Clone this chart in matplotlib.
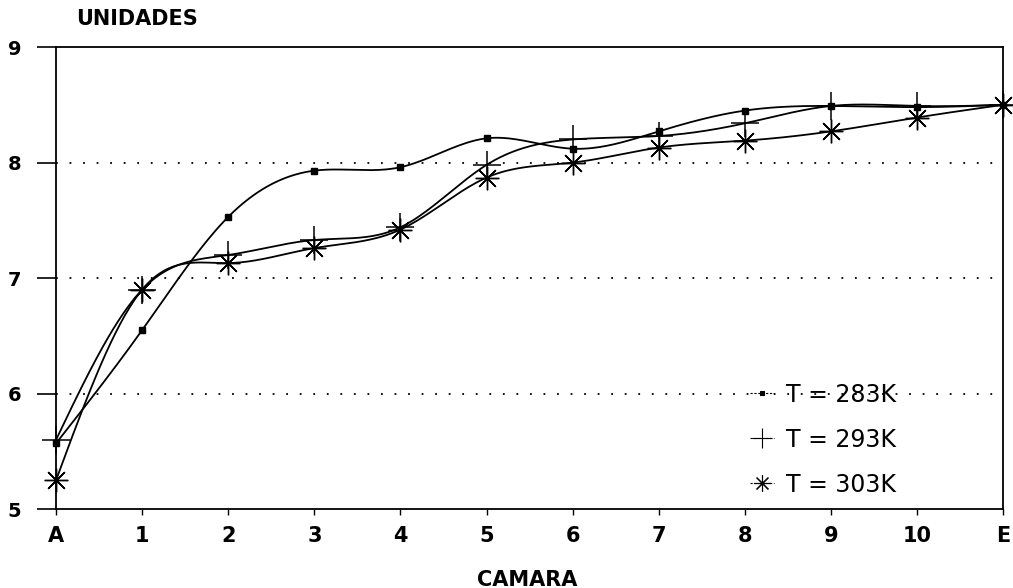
import matplotlib.pyplot as plt
import numpy as np

camaras = ['A', '1', '2', '3', '4', '5', '6', '7', '8', '9', '10', 'E']
t283 = [5.57, 6.55, 7.53, 7.93, 7.96, 8.21, 8.12, 8.27, 8.45, 8.49, 8.48, 8.50]
t293 = [5.60, 6.90, 7.20, 7.33, 7.44, 7.98, 8.20, 8.23, 8.34, 8.49, 8.49, 8.50]
t303 = [5.25, 6.90, 7.13, 7.26, 7.42, 7.87, 8.00, 8.13, 8.19, 8.27, 8.39, 8.50]
grid_levels = [6, 7, 8]


def natural_spline(x, y, n=400):
    # natural cubic spline, just for drawing the smooth connecting curve
    x = np.asarray(x, float)
    y = np.asarray(y, float)
    k = len(x)
    h = np.diff(x)
    A = np.zeros((k, k))
    b = np.zeros(k)
    A[0, 0] = A[-1, -1] = 1.0
    for i in range(1, k - 1):
        A[i, i - 1] = h[i - 1]
        A[i, i] = 2 * (h[i - 1] + h[i])
        A[i, i + 1] = h[i]
        b[i] = 3 * ((y[i + 1] - y[i]) / h[i] - (y[i] - y[i - 1]) / h[i - 1])
    c = np.linalg.solve(A, b)
    xs = np.linspace(x[0], x[-1], n)
    idx = np.clip(np.searchsorted(x, xs) - 1, 0, k - 2)
    dx = xs - x[idx]
    bb = (y[idx + 1] - y[idx]) / h[idx] - h[idx] * (2 * c[idx] + c[idx + 1]) / 3
    dd = (c[idx + 1] - c[idx]) / (3 * h[idx])
    ys = y[idx] + bb * dx + c[idx] * dx ** 2 + dd * dx ** 3
    return xs, ys


plt.rcParams['font.family'] = ['DejaVu Sans']

fig = plt.figure(figsize=(10.13, 5.88), dpi=100)
ax = fig.add_axes([0.0553, 0.134, 0.935, 0.786])

x = np.arange(len(camaras))
series = [
    (t283, dict(marker='s', markersize=4), 'T = 283K'),
    (t293, dict(marker='+', markersize=20, markeredgewidth=1.1), 'T = 293K'),
    (t303, dict(marker=(8, 2, 0), markersize=17, markeredgewidth=1.0), 'T = 303K'),
]
handles = []
for vals, mk, label in series:
    xs, ys = natural_spline(x, vals)
    ax.plot(xs, ys, color='black', lw=1.3)
    ax.plot(x, vals, linestyle='none', color='black', clip_on=False, **mk)
    h, = ax.plot([], [], color='black', lw=0.8, linestyle=(0, (2, 1.5)),
                 marker=mk['marker'], markersize=mk['markersize'] * 0.7,
                 markeredgewidth=0.8, label=label)
    handles.append(h)

for lvl in grid_levels:
    ax.axhline(lvl, color='black', lw=1.3, linestyle=(0, (1, 6.5)), zorder=0)

ax.set_xlim(0, len(camaras) - 1)
ax.set_ylim(5, 9)
ax.set_xticks(x)
ax.set_xticklabels(camaras)
ax.set_yticks([5, 6, 7, 8, 9])
ax.tick_params(axis='x', direction='out', length=4, width=1, pad=8, labelsize=15)
ax.tick_params(axis='y', direction='out', length=14, width=1.2, pad=11, labelsize=14)
for s in ax.spines.values():
    s.set_linewidth(1.3)

for t in ax.get_xticklabels() + ax.get_yticklabels():
    t.set_fontweight('bold')

leg = ax.legend(handles=handles, loc='upper left', bbox_to_anchor=(0.733, 0.274),
                frameon=False, fontsize=17, handlelength=1.0, handletextpad=0.5,
                labelspacing=0.89, borderaxespad=0, borderpad=0)

fig.text(137 / 1013, 1 - 19 / 588, 'UNIDADES', fontsize=15, fontweight='bold',
         ha='center', va='center')
fig.text(527 / 1013, 1 - 580 / 588, 'CAMARA', fontsize=15, fontweight='bold',
         ha='center', va='center')

fig.savefig('out.png', dpi=100)
